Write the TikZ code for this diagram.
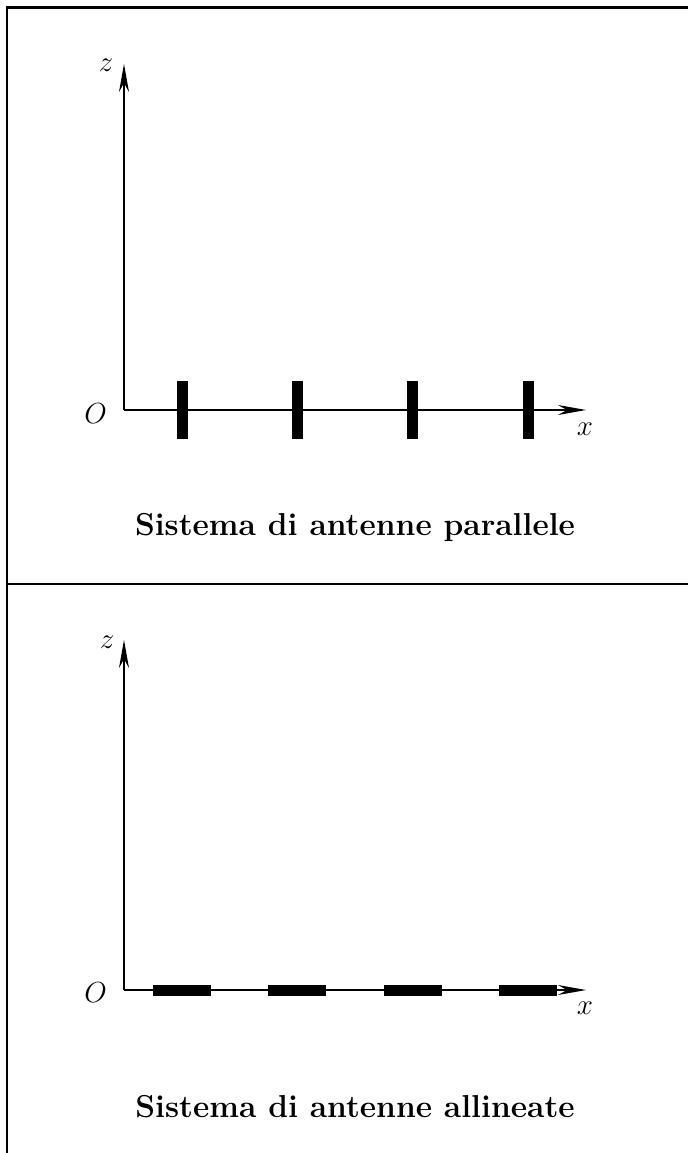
\RequirePackage{fix-cm}
\documentclass[tikz,border=0pt]{standalone}
\usepackage{amsmath}
\usepackage{fontspec}
\usetikzlibrary{arrows.meta, positioning}

\begin{document}
\begin{tikzpicture}[
    x=1pt, y=-1pt,
    node distance=104pt,
    frame/.style={line width=2.5pt},
    axis/.style={line width=1.2pt, -{Stealth[length=28pt, width=10pt, inset=9pt]}},
    vbar/.style={rectangle, fill=black, inner sep=0pt, minimum width=11pt, minimum height=58pt},
    hbar/.style={rectangle, fill=black, inner sep=0pt, minimum width=58pt, minimum height=11pt},
    axlabel/.style={font=\fontsize{29}{34}\selectfont, anchor=base, inner sep=0pt},
    caption/.style={font=\fontsize{31.7}{38}\selectfont\bfseries, anchor=base, inner sep=0pt},
]
\useasboundingbox (0,0) rectangle (688,1153);

% Frame
\coordinate (ftop) at (7,7.5);
\coordinate (ftopr) at (688,7.5);
\coordinate (fmid) at (7,584);
\coordinate (fmidr) at (688,584);
\coordinate (fbot) at (7,1153);
\draw[frame] (ftopr) -- (ftop) -- (fbot);
\draw[frame] (fmid) -- (fmidr);

% Panel 1: parallel antennas
\coordinate (o1) at (124,410);
\coordinate (z1) at (124,64);
\coordinate (x1) at (586,410);
\draw[axis] (o1) -- (z1);
\draw[axis] (o1) -- (x1);
\node[axlabel] (lo1) at (95.5,423) {$O$};
\node[axlabel] (lz1) at (106,72) {$z$};
\node[axlabel] (lx1) at (585,435) {$x$};

\node[vbar] (p1) at (182,410) {};
\node[vbar, right=of p1] (p2) {};
\node[vbar, right=of p2] (p3) {};
\node[vbar, right=of p3] (p4) {};

\node[caption] (cap1) at (355,535) {Sistema di antenne parallele};

% Panel 2: aligned antennas
\coordinate (o2) at (124,990);
\coordinate (z2) at (124,640);
\coordinate (x2) at (586,990);
\draw[axis] (o2) -- (z2);
\draw[axis] (o2) -- (x2);
\node[axlabel] (lo2) at (95.5,1002) {$O$};
\node[axlabel] (lz2) at (107,648) {$z$};
\node[axlabel] (lx2) at (585,1014) {$x$};

\node[hbar] (a1) at (182,990) {};
\node[hbar, right=57pt of a1] (a2) {};
\node[hbar, right=57pt of a2] (a3) {};
\node[hbar, right=57pt of a3] (a4) {};

\node[caption] (cap2) at (355,1117) {Sistema di antenne allineate};

\end{tikzpicture}
\end{document}
